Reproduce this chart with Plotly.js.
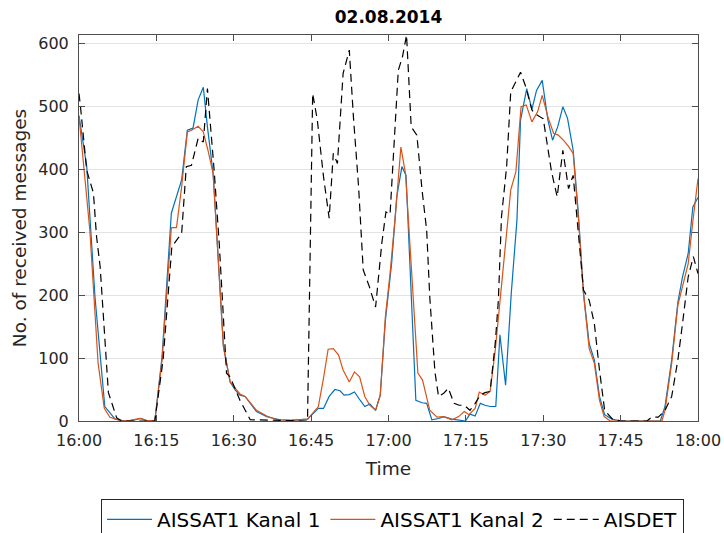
<!DOCTYPE html>
<html>
<head>
<meta charset="utf-8">
<script src="https://cdn.plot.ly/plotly-3.0.1.min.js"></script>
<style>
  html, body { margin: 0; padding: 0; background: #fff; }
  #chart { width: 724px; height: 533px; }
</style>
</head>
<body>
<div id="chart"></div>
<script>
// Time axis: minutes after 16:00
const tickMinutes = [0, 15, 30, 45, 60, 75, 90, 105, 120];
const tickLabels = ['16:00', '16:15', '16:30', '16:45', '17:00', '17:15', '17:30', '17:45', '18:00'];

// AISSAT1 Kanal 1
const kanal1Min = [0,1.5,3.1,5,7,9,11,12,13,14.7,16.1,17.9,19.9,21,22.1,23.1,24.1,24.9,26,27,28,29.3,30.3,31.2,32.2,34.4,36.4,37.9,39,41,44.3,46.4,47.4,48.5,49.6,50.6,51.4,52.4,53.4,54.5,55.4,56.4,57.5,58.4,59.4,60.6,61.6,62.6,63.4,65.3,66.5,67.4,68.4,69.7,70.7,72.3,74.9,75.8,76.8,77.8,78.7,79.7,80.8,81.6,82.7,83.8,84.9,85.6,86.8,87.8,88.7,89.8,90.9,91.8,92.8,93.8,94.7,95.8,96.8,97.8,98.9,99.9,100.9,101.9,103.3,105,112.7,113.6,114.9,116.1,117,118.1,119,120];
const kanal1 = [485,404,197,23,3,0,2,4,1,0,102,330,383,462,465,510,530,467,393,250,118,62,49,41,39,15,7,4,2,1,3,20,20,39,50,48,41,42,46,33,23,27,17,41,160,250,356,404,390,33,29,28,2,4,7,3,0,11,8,28,25,23,23,137,57,203,319,478,528,495,525,541,478,446,467,499,481,430,330,203,123,97,39,10,3,0,0,23,97,189,229,266,340,355];

// AISSAT1 Kanal 2
const kanal2Min = [0,2.1,3.7,4.9,6,8.3,10,11.8,13,14.7,16.1,17.9,18.9,19.9,21,21.9,23.1,24.1,25,26,27,28,29.3,31.2,32.2,34.4,36.4,37.9,39,41,44.3,46.4,47.4,48.3,49.3,50.3,51.2,52.4,53.4,54.4,55.4,56.4,57.5,58.4,59.4,60.3,61.3,62.4,63.3,65.7,66.6,68,69.4,70.7,72.3,73.6,74.7,75.6,76.8,77.6,78.7,79.7,80.7,81.6,82.6,83.7,84.7,85.7,86.7,87.8,88.9,89.8,90.9,92,92.9,93.9,94.9,95.8,96.8,97.8,98.9,99.9,100.9,101.8,103,113,113.6,114.9,116.1,117,118.1,119.1,120];
const kanal2 = [484,303,92,20,6,0,1,4,1,0,97,307,307,372,459,462,468,459,430,393,256,118,62,43,39,17,8,3,2,1,3,23,68,114,115,105,81,62,78,70,39,25,17,41,166,234,324,435,393,76,65,17,6,7,2,7,15,10,20,46,41,47,113,192,271,367,396,499,502,475,491,517,483,457,454,446,436,425,324,203,115,92,33,7,0,0,17,92,184,213,250,324,385];

// AISDET
const aisdetMin = [0,0.3,1.5,2.8,3.4,4.1,5.7,7.3,8.3,14.7,16.3,18,19.9,20.8,21.8,23.1,24.1,24.9,26.2,27.2,28.6,29.3,31.2,33.2,44.3,45.3,46.2,47.4,48.5,49.3,50.1,51.2,52.4,53.2,54.2,55.1,56.3,57.5,58.7,59.5,60.3,61,61.9,62.7,63.5,64.4,65.5,66.5,67.4,68,69,69.7,70.7,71.6,72.7,73.7,74.7,75.8,76.8,77.8,78.7,79.7,80.7,81.3,81.9,82.9,83.7,84.7,85.6,86.6,87.8,88.4,89.5,90,91.6,92.7,93.8,94.9,95.8,96.8,97.8,98.9,99.9,100.9,101.9,103.3,105,110.1,111,112.3,113.6,114.9,116.1,117,118.1,119.1,120];
const aisdet = [520,498,398,362,293,245,45,5,0,0,97,277,298,404,406,449,443,528,398,280,76,70,33,2,0,520,478,388,322,425,409,552,589,483,372,240,213,181,282,332,328,420,557,578,613,467,454,367,303,197,78,39,44,52,28,25,25,17,28,41,45,47,124,192,324,404,523,539,554,531,494,488,483,480,396,356,430,369,390,303,208,192,155,81,17,4,0,0,6,6,17,39,97,155,229,261,234];

const seriesNames = ['AISSAT1 Kanal 1', 'AISSAT1 Kanal 2', 'AISDET'];
const seriesColors = ['#0072BD', '#D95319', '#000000'];

const traces = [
  { x: kanal1Min, y: kanal1, name: seriesNames[0], type: 'scatter', mode: 'lines',
    line: { color: seriesColors[0], width: 1.2 } },
  { x: kanal2Min, y: kanal2, name: seriesNames[1], type: 'scatter', mode: 'lines',
    line: { color: seriesColors[1], width: 1.2 } },
  { x: aisdetMin, y: aisdet, name: seriesNames[2], type: 'scatter', mode: 'lines',
    line: { color: seriesColors[2], width: 1.2, dash: '8px,5px' } }
];

const axisColor = '#4d4d4d';
const textColor = '#262626';
const fontFamily = 'DejaVu Sans, sans-serif';

const layout = {
  width: 724,
  height: 533,
  margin: { l: 79, r: 26, t: 35, b: 112, autoexpand: false },
  paper_bgcolor: '#ffffff',
  plot_bgcolor: '#ffffff',
  font: { family: fontFamily, color: textColor },
  showlegend: true,
  title: {
    text: '<b>02.08.2014</b>',
    font: { size: 17, color: '#000000', family: fontFamily },
    xref: 'paper', x: 0.5, xanchor: 'center',
    yref: 'container', y: 1 - 17 / 533, yanchor: 'middle'
  },
  xaxis: {
    range: [0, 120],
    tickvals: tickMinutes,
    ticktext: tickLabels,
    ticks: 'inside', ticklen: 6, tickwidth: 1, tickcolor: axisColor,
    showline: true, linecolor: axisColor, linewidth: 1, mirror: 'ticks',
    showgrid: false, zeroline: false,
    tickfont: { size: 16, color: textColor },
    ticklabelstandoff: 5,
    title: { text: 'Time', font: { size: 18.5, color: textColor }, standoff: 12 }
  },
  yaxis: {
    range: [0, 613],
    tickvals: [0, 100, 200, 300, 400, 500, 600],
    ticks: 'inside', ticklen: 6, tickwidth: 1, tickcolor: axisColor,
    showline: true, linecolor: axisColor, linewidth: 1, mirror: 'ticks',
    showgrid: true, gridcolor: '#e3e3e3', gridwidth: 1, zeroline: false,
    tickfont: { size: 16, color: textColor },
    ticklabelstandoff: 6,
    title: { text: 'No. of received messages', font: { size: 18.5, color: textColor }, standoff: 6 }
  },
  legend: {
    orientation: 'h',
    x: 0.5065, xanchor: 'center',
    y: -0.202, yanchor: 'top',
    bordercolor: '#262626', borderwidth: 1,
    bgcolor: '#ffffff',
    itemwidth: 45,
    font: { size: 20, color: '#000000', family: fontFamily },
    traceorder: 'normal'
  }
};

Plotly.newPlot('chart', traces, layout, { displayModeBar: false, staticPlot: true });
</script>
</body>
</html>
